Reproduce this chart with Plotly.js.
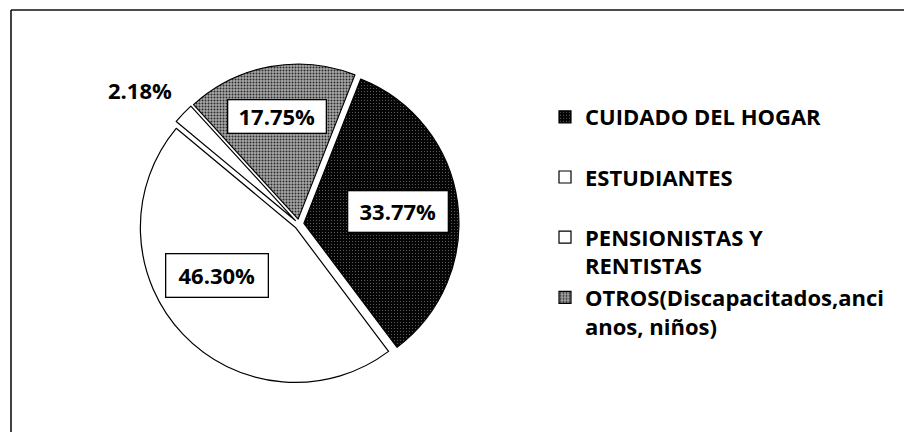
<!DOCTYPE html>
<html>
<head>
<meta charset="utf-8">
<script src="https://cdn.plot.ly/plotly-3.0.1.min.js"></script>
<style>html,body{margin:0;padding:0;background:#fff;}#chart{width:904px;height:432px;}</style>
</head>
<body>
<div id="chart"></div>
<script>
// Data
const categories = ["CUIDADO DEL HOGAR", "ESTUDIANTES", "PENSIONISTAS Y RENTISTAS", "OTROS(Discapacitados,ancianos, niños)"];
const legendLabels = ["CUIDADO DEL HOGAR<br>\u00a0", "ESTUDIANTES<br>\u00a0", "PENSIONISTAS Y<br>RENTISTAS", "OTROS(Discapacitados,anci<br>anos, niños)"];
const percentValues = [33.77, 46.30, 2.18, 17.75];
const percentLabels = ["33.77%", "46.30%", "2.18%", "17.75%"];

// Styling (not data)
const sliceColors = ["#050505", "#ffffff", "#ffffff", "#a8a8a8"];
const patternShapes = [".", "", "", "."];
const patternFg = ["#707070", "#ffffff", "#ffffff", "#2a2a2a"];
const patternSolidity = [0.1, 0.3, 0.3, 0.34];
const labelPos = [[398, 211], [217, 275], [140, 90], [277, 117]];
const labelBox = [[97, 38], [99, 40], [null, null], [95, 30]];
const boxed = [true, true, false, true];

const W = 904, H = 432;
const font = {family: "Open Sans, Lato, sans-serif", size: 22, color: "#000", weight: 700};

const trace = {
  type: "pie",
  labels: legendLabels,
  values: percentValues,
  sort: false,
  direction: "clockwise",
  rotation: 21.5,
  pull: 0.032,
  textinfo: "none",
  hoverinfo: "label+percent",
  marker: {
    colors: sliceColors,
    line: {color: "#000", width: 1.2},
    pattern: {shape: patternShapes, fgcolor: patternFg, bgcolor: sliceColors, size: 3, solidity: patternSolidity}
  },
  domain: {x: [139 / W, 459 / W], y: [(H - 384) / H, (H - 64) / H]}
};

const annotations = percentLabels.map((t, i) => {
  const a = {
    text: t, xref: "paper", yref: "paper",
    x: labelPos[i][0] / W, y: 1 - labelPos[i][1] / H,
    xanchor: "center", yanchor: "middle", showarrow: false,
    font: font
  };
  if (boxed[i]) {
    a.bgcolor = "#fff"; a.bordercolor = "#000"; a.borderwidth = 1.3;
    a.width = labelBox[i][0]; a.height = labelBox[i][1];
  }
  return a;
});

const layout = {
  width: W, height: H,
  margin: {l: 0, r: 0, t: 0, b: 0},
  paper_bgcolor: "#fff",
  showlegend: true,
  legend: {
    x: 545 / W, y: 1 - 96 / H, xanchor: "left", yanchor: "top",
    font: {family: "Open Sans, Lato, sans-serif", size: 22, color: "#000", weight: 700},
    valign: "top", bgcolor: "rgba(0,0,0,0)", borderwidth: 0
  },
  annotations: annotations,
  shapes: [
    {type: "line", xref: "paper", yref: "paper", x0: 11 / W, x1: 11 / W, y0: 0, y1: 1 - 10 / H, line: {color: "#111", width: 1.6}},
    {type: "line", xref: "paper", yref: "paper", x0: 11 / W, x1: 1, y0: 1 - 10 / H, y1: 1 - 10 / H, line: {color: "#111", width: 1.6}}
  ]
};

Plotly.newPlot("chart", [trace], layout, {staticPlot: true});
</script>
</body>
</html>
